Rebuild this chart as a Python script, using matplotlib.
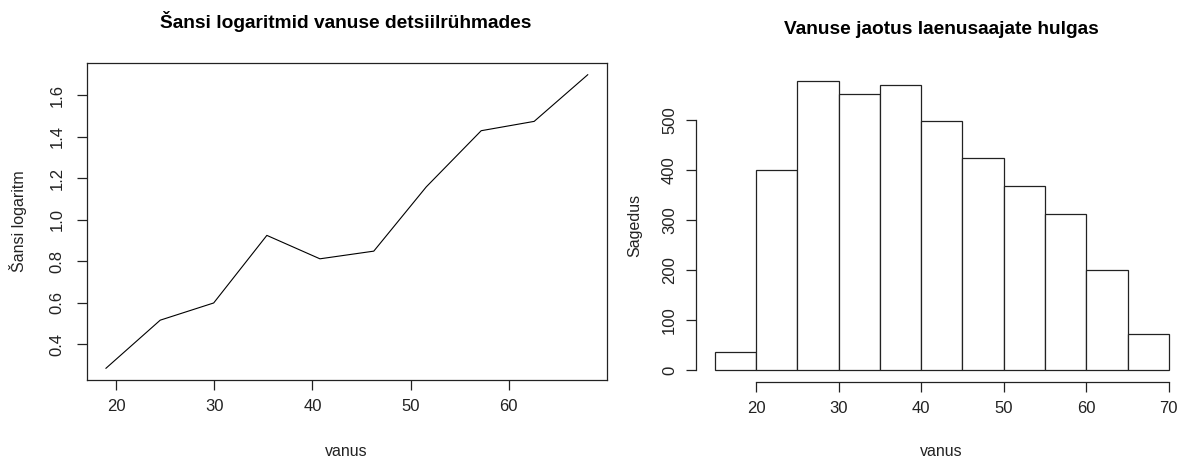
import matplotlib
matplotlib.use("Agg")
import matplotlib.pyplot as plt

plt.rcParams['font.family'] = ['Liberation Sans', 'DejaVu Sans']

# vasak paneel: šansi logaritmid vanuse detsiilides
age_mid = [18.95, 24.48, 29.93, 35.35, 40.76, 46.25, 51.6, 57.2, 62.6, 68.06]
log_odds = [0.284, 0.516, 0.599, 0.925, 0.812, 0.849, 1.159, 1.43, 1.475, 1.70]

# parem paneel: vanuse histogramm
bin_edges = [15, 20, 25, 30, 35, 40, 45, 50, 55, 60, 65, 70]
counts = [35, 400, 578, 551, 570, 497, 423, 367, 312, 199, 71]

W, H = 1181, 459
fig = plt.figure(figsize=(W / 100, H / 100), dpi=100)


def px_axes(left, top, right, bottom):
    return fig.add_axes([left / W, 1 - bottom / H, (right - left) / W, (bottom - top) / H])


def r_lim(lo, hi):
    pad = 0.04 * (hi - lo)
    return lo - pad, hi + pad


lw = 0.9
tick_fs = 12
lab_fs = 11.5
title_fs = 13.8

# --- vasak ---
ax1 = px_axes(86.7, 63, 607, 380)
ax1.plot(age_mid, log_odds, color="black", lw=0.8)
ax1.set_xlim(*r_lim(min(age_mid), max(age_mid)))
ax1.set_ylim(*r_lim(min(log_odds), max(log_odds)))
ax1.set_xticks([20, 30, 40, 50, 60])
ax1.set_yticks([0.4, 0.6, 0.8, 1.0, 1.2, 1.4, 1.6])
ax1.set_yticklabels(["0.4", "0.6", "0.8", "1.0", "1.2", "1.4", "1.6"], rotation=90, va="center")
for s in ax1.spines.values():
    s.set_linewidth(lw)
    s.set_color("#222222")
ax1.tick_params(axis="x", length=7, width=lw, pad=7, labelsize=tick_fs, colors="#222222")
ax1.tick_params(axis="y", length=7, width=lw, pad=9, labelsize=tick_fs, colors="#222222")
fig.text(346 / W, 1 - 22 / H, "Šansi logaritmid vanuse detsiilrühmades",
         ha="center", va="center", fontsize=title_fs, fontweight="bold")
fig.text(346 / W, 1 - 452 / H, "vanus", ha="center", va="center", fontsize=lab_fs, color="#222222")
fig.text(18 / W, 1 - 221 / H, "Šansi logaritm", ha="center", va="center", rotation=90,
         fontsize=lab_fs, color="#222222")

# --- parem ---
ax2 = px_axes(696.5, 69, 1187, 381.6)
ax2.bar(bin_edges[:-1], counts, width=5, align="edge", color="white",
        edgecolor="#222222", linewidth=lw)
ax2.set_xlim(*r_lim(bin_edges[0], bin_edges[-1]))
ax2.set_ylim(*r_lim(0, max(counts)))
ax2.set_xticks([20, 30, 40, 50, 60, 70])
ax2.set_yticks([0, 100, 200, 300, 400, 500])
ax2.set_yticklabels(["0", "100", "200", "300", "400", "500"], rotation=90, va="center")
ax2.spines["top"].set_visible(False)
ax2.spines["right"].set_visible(False)
ax2.spines["left"].set_bounds(0, 500)
ax2.spines["bottom"].set_bounds(20, 70)
for s in ("left", "bottom"):
    ax2.spines[s].set_linewidth(lw)
    ax2.spines[s].set_color("#222222")
ax2.tick_params(axis="x", length=7, width=lw, pad=7, labelsize=tick_fs, colors="#222222")
ax2.tick_params(axis="y", length=7, width=lw, pad=7, labelsize=tick_fs, colors="#222222")
fig.text(941 / W, 1 - 30 / H, "Vanuse jaotus laenusaajate hulgas",
         ha="center", va="center", fontsize=title_fs, fontweight="bold")
fig.text(941 / W, 1 - 452 / H, "vanus", ha="center", va="center", fontsize=lab_fs, color="#222222")
fig.text(635 / W, 1 - 225 / H, "Sagedus", ha="center", va="center", rotation=90,
         fontsize=lab_fs, color="#222222")

fig.savefig("out.png", dpi=100)
